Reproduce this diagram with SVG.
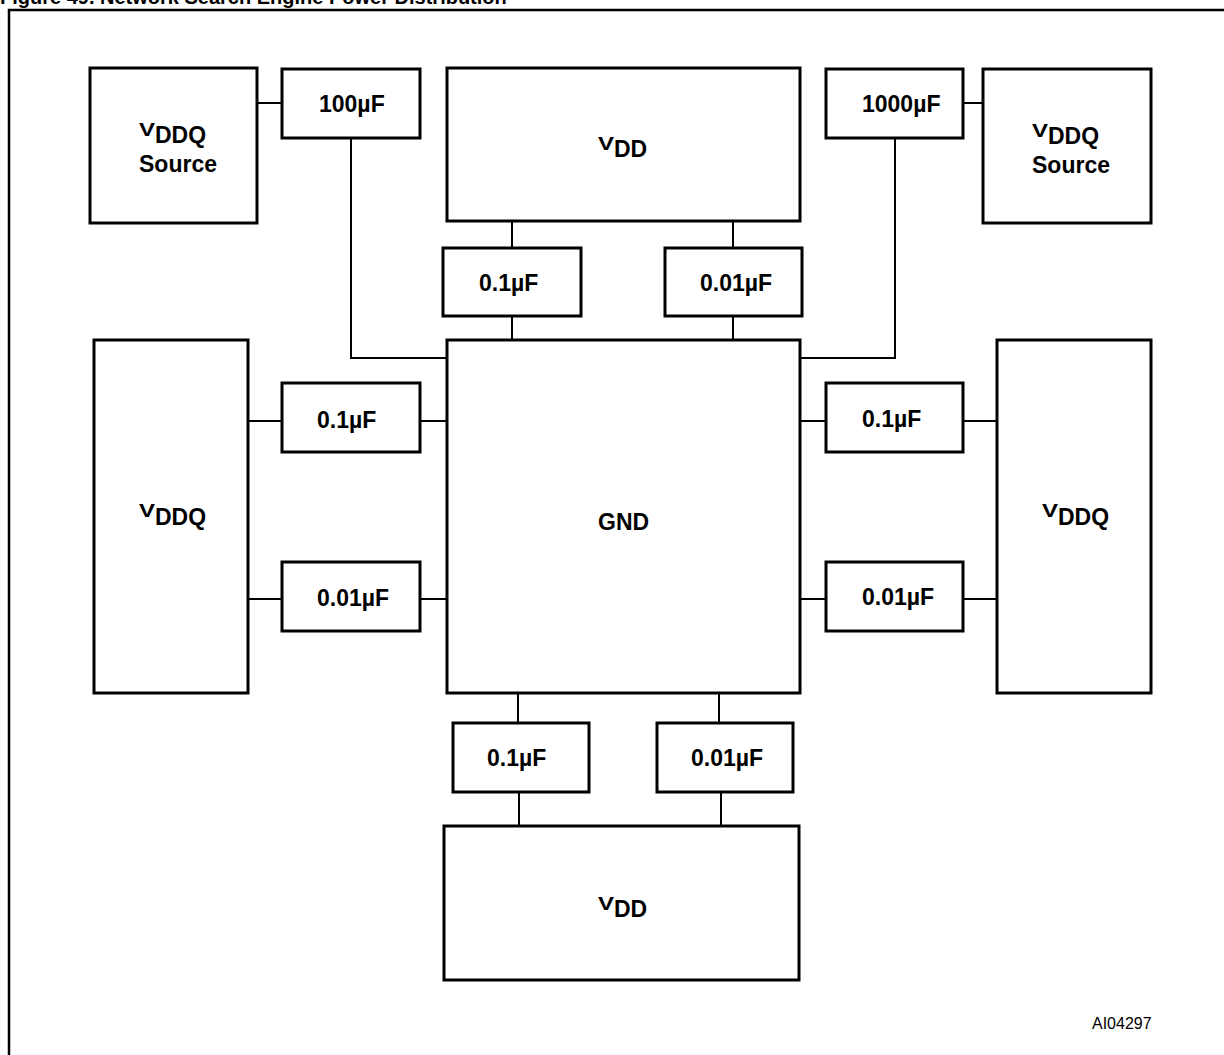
<svg xmlns="http://www.w3.org/2000/svg" width="1224" height="1055" viewBox="0 0 1224 1055">
<style>
.box{fill:#fff;stroke:#000;stroke-width:3}
.wire{fill:none;stroke:#000;stroke-width:2}
.t{font-family:"Liberation Sans",Arial,sans-serif;font-weight:bold;font-size:23px;fill:#000}
.v{font-family:"Liberation Sans",Arial,sans-serif;font-weight:bold;font-size:18px;fill:#000}
.id{font-family:"Liberation Sans",Arial,sans-serif;font-size:16px;fill:#000}
</style>
<rect width="1224" height="1055" fill="#fff"/>
<text x="0" y="4" class="t" style="font-size:20px">Figure 49. Network Search Engine Power Distribution</text>
<rect x="9" y="10" width="1300" height="1100" fill="none" stroke="#000" stroke-width="2.5"/>
<g id="connectors">
<line class="wire" x1="257" y1="103" x2="282" y2="103"/>
<polyline class="wire" points="351,138 351,358 447,358"/>
<line class="wire" x1="963" y1="103" x2="983" y2="103"/>
<polyline class="wire" points="895,138 895,358 800,358"/>
<line class="wire" x1="512" y1="221" x2="512" y2="248"/>
<line class="wire" x1="512" y1="316" x2="512" y2="340"/>
<line class="wire" x1="733" y1="221" x2="733" y2="248"/>
<line class="wire" x1="733" y1="316" x2="733" y2="340"/>
<line class="wire" x1="248" y1="421" x2="282" y2="421"/>
<line class="wire" x1="420" y1="421" x2="447" y2="421"/>
<line class="wire" x1="248" y1="599" x2="282" y2="599"/>
<line class="wire" x1="420" y1="599" x2="447" y2="599"/>
<line class="wire" x1="800" y1="421" x2="826" y2="421"/>
<line class="wire" x1="963" y1="421" x2="997" y2="421"/>
<line class="wire" x1="800" y1="599" x2="826" y2="599"/>
<line class="wire" x1="963" y1="599" x2="997" y2="599"/>
<line class="wire" x1="518" y1="693" x2="518" y2="723"/>
<line class="wire" x1="519" y1="792" x2="519" y2="826"/>
<line class="wire" x1="719" y1="693" x2="719" y2="723"/>
<line class="wire" x1="721" y1="792" x2="721" y2="826"/>
</g>
<g id="vddq-source-left"><rect class="box" x="90" y="68" width="167" height="155"/>
<text class="v" x="139" y="136" textLength="16" lengthAdjust="spacingAndGlyphs">V</text><text class="t" x="155" y="143">DDQ</text><text class="t" x="139" y="172">Source</text></g>
<g id="cap-100uF"><rect class="box" x="282" y="69" width="138" height="69"/><text class="t" x="319" y="112">100µF</text></g>
<g id="vdd-top"><rect class="box" x="447" y="68" width="353" height="153"/>
<text class="v" x="598" y="150" textLength="16" lengthAdjust="spacingAndGlyphs">V</text><text class="t" x="614" y="157">DD</text></g>
<g id="cap-1000uF"><rect class="box" x="826" y="69" width="137" height="69"/><text class="t" x="862" y="112">1000µF</text></g>
<g id="vddq-source-right"><rect class="box" x="983" y="69" width="168" height="154"/>
<text class="v" x="1032" y="137" textLength="16" lengthAdjust="spacingAndGlyphs">V</text><text class="t" x="1048" y="144">DDQ</text><text class="t" x="1032" y="173">Source</text></g>
<g id="cap-top-01"><rect class="box" x="443" y="248" width="138" height="68"/><text class="t" x="479" y="291">0.1µF</text></g>
<g id="cap-top-001"><rect class="box" x="665" y="248" width="137" height="68"/><text class="t" x="700" y="291">0.01µF</text></g>
<g id="gnd"><rect class="box" x="447" y="340" width="353" height="353"/><text class="t" x="598" y="530">GND</text></g>
<g id="vddq-left"><rect class="box" x="94" y="340" width="154" height="353"/>
<text class="v" x="139" y="517" textLength="16" lengthAdjust="spacingAndGlyphs">V</text><text class="t" x="155" y="525">DDQ</text></g>
<g id="vddq-right"><rect class="box" x="997" y="340" width="154" height="353"/>
<text class="v" x="1042" y="517" textLength="16" lengthAdjust="spacingAndGlyphs">V</text><text class="t" x="1058" y="525">DDQ</text></g>
<g id="cap-left-01"><rect class="box" x="282" y="383" width="138" height="69"/><text class="t" x="317" y="428">0.1µF</text></g>
<g id="cap-left-001"><rect class="box" x="282" y="562" width="138" height="69"/><text class="t" x="317" y="606">0.01µF</text></g>
<g id="cap-right-01"><rect class="box" x="826" y="383" width="137" height="69"/><text class="t" x="862" y="427">0.1µF</text></g>
<g id="cap-right-001"><rect class="box" x="826" y="562" width="137" height="69"/><text class="t" x="862" y="605">0.01µF</text></g>
<g id="cap-bottom-01"><rect class="box" x="453" y="723" width="136" height="69"/><text class="t" x="487" y="766">0.1µF</text></g>
<g id="cap-bottom-001"><rect class="box" x="657" y="723" width="136" height="69"/><text class="t" x="691" y="766">0.01µF</text></g>
<g id="vdd-bottom"><rect class="box" x="444" y="826" width="355" height="154"/>
<text class="v" x="598" y="910" textLength="16" lengthAdjust="spacingAndGlyphs">V</text><text class="t" x="614" y="917">DD</text></g>
<text class="id" x="1092" y="1029">AI04297</text>
</svg>
